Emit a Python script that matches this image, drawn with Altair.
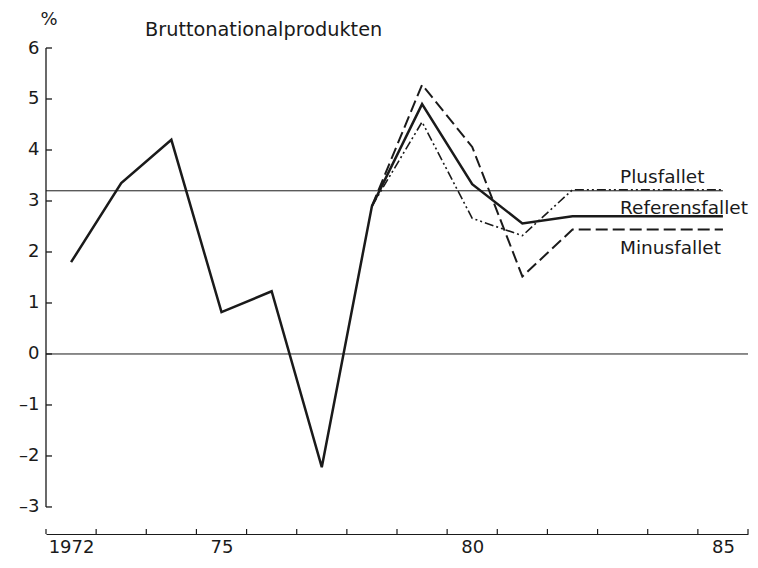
import altair as alt
import pandas as pd

# ---- data ----
years_ref = [1972, 1973, 1974, 1975, 1976, 1977, 1978, 1979, 1980, 1981, 1982, 1983, 1984, 1985]
ref_vals = [1.8, 3.35, 4.2, 0.82, 1.23, -2.22, 2.9, 4.9, 3.33, 2.56, 2.7, 2.7, 2.7, 2.7]

years_scen = [1978, 1979, 1980, 1981, 1982, 1983, 1984, 1985]
plus_vals = [2.9, 4.55, 2.66, 2.32, 3.22, 3.22, 3.22, 3.22]
minus_vals = [2.9, 5.28, 4.06, 1.52, 2.44, 2.44, 2.44, 2.44]

y_tick_values = [-3, -2, -1, 0, 1, 2, 3, 4, 5, 6]
x_year_bounds = [1971.5 + i for i in range(15)]
x_label_years = [1972, 1975, 1980, 1985]
level_value = [3.2]
level_span = [1971.5, 1985]
zero_value = [0]
series_labels = ["Plusfallet", "Referensfallet", "Minusfallet"]
title_text = "Bruttonationalprodukten"
unit_text = "%"

# ---- layout / style ----
W, H = 702, 486
FONT = "DejaVu Sans"
INK = "#1a1a1a"

xscale = alt.Scale(domain=[1971.5, 1985.5], nice=False, zero=False)
yscale = alt.Scale(domain=[-3.53, 6], nice=False, zero=False)

x_axis = alt.Axis(
    values=x_label_years,
    labelExpr="datum.value == 1972 ? '1972' : substring('' + datum.value, 2, 4)",
    title=None, ticks=False, grid=False, domain=True,
    domainColor=INK, domainWidth=1.2,
    labelFont=FONT, labelFontSize=18, labelColor=INK, labelPadding=4,
    labelFlush=False,
)
y_axis = alt.Axis(
    values=y_tick_values,
    labelExpr="datum.value < 0 ? '\u2013' + abs(datum.value) : '' + datum.value",
    title=None, ticks=False, grid=False, domain=False,
    labelFont=FONT, labelFontSize=18, labelColor=INK, labelPadding=7,
)


def X(field):
    return alt.X(field, type="quantitative", scale=xscale, axis=x_axis)


def Y(field):
    return alt.Y(field, type="quantitative", scale=yscale, axis=y_axis)


df_ref = pd.DataFrame({"year": years_ref, "value": ref_vals})
df_plus = pd.DataFrame({"year": years_scen, "value": plus_vals})
df_minus = pd.DataFrame({"year": years_scen, "value": minus_vals})

ref_line = alt.Chart(df_ref).mark_line(color=INK, strokeWidth=2.5).encode(x=X("year"), y=Y("value"))
minus_line = alt.Chart(df_minus).mark_line(color=INK, strokeWidth=2, strokeDash=[12, 5]).encode(
    x=X("year"), y=Y("value"))
plus_line = alt.Chart(df_plus).mark_line(color=INK, strokeWidth=1.6, strokeDash=[9, 3, 2, 3, 2, 3]).encode(
    x=X("year"), y=Y("value"))

# horizontal reference line and zero line
level_rule = alt.Chart(pd.DataFrame({"value": level_value, "x0": [level_span[0]], "x1": [level_span[1]]})).mark_rule(
    color=INK, strokeWidth=1).encode(y=Y("value"), x=X("x0"), x2="x1:Q")
zero_rule = alt.Chart(pd.DataFrame({"value": zero_value})).mark_rule(color=INK, strokeWidth=1).encode(
    y=Y("value"), x=alt.value(0), x2=alt.value(W))

# y axis line (from -3 to 6) with inward ticks
y_domain = alt.Chart(pd.DataFrame({"value": [y_tick_values[0]], "y1": [y_tick_values[-1]]})).mark_rule(
    color=INK, strokeWidth=1.3).encode(y=Y("value"), y2="y1:Q", x=alt.value(0))
y_ticks = alt.Chart(pd.DataFrame({"value": y_tick_values})).mark_rule(color=INK, strokeWidth=1.3).encode(
    y=Y("value"), x=alt.value(0), x2=alt.value(6))
# x axis ticks pointing up at the year boundaries
x_ticks = alt.Chart(pd.DataFrame({"year": x_year_bounds})).mark_rule(color=INK, strokeWidth=1.2).encode(
    x=X("year"), y=alt.value(H), y2=alt.value(H - 5))


def text_layer(txt, x, y, size=18.5, align="left"):
    return alt.Chart(pd.DataFrame({"t": [txt]})).mark_text(
        font=FONT, fontSize=size, color=INK, align=align, baseline="middle").encode(
        text="t:N", x=alt.value(x), y=alt.value(y))


labels = [
    text_layer(series_labels[0], 574, 129),
    text_layer(series_labels[1], 574, 160),
    text_layer(series_labels[2], 574, 200),
    text_layer(title_text, 99, -18, size=19.3),
    text_layer(unit_text, 3, -28, size=18, align="center"),
]

chart = alt.layer(
    ref_line, zero_rule, level_rule, minus_line, plus_line,
    y_domain, y_ticks, x_ticks, *labels,
).properties(
    width=W, height=H,
    autosize=alt.AutoSizeParams(type="none"),
    padding={"left": 38, "top": 40, "right": 2, "bottom": 22},
    background="white",
).configure_view(stroke=None)

chart.save("out.html", embed_options={"renderer": "svg", "actions": False})
